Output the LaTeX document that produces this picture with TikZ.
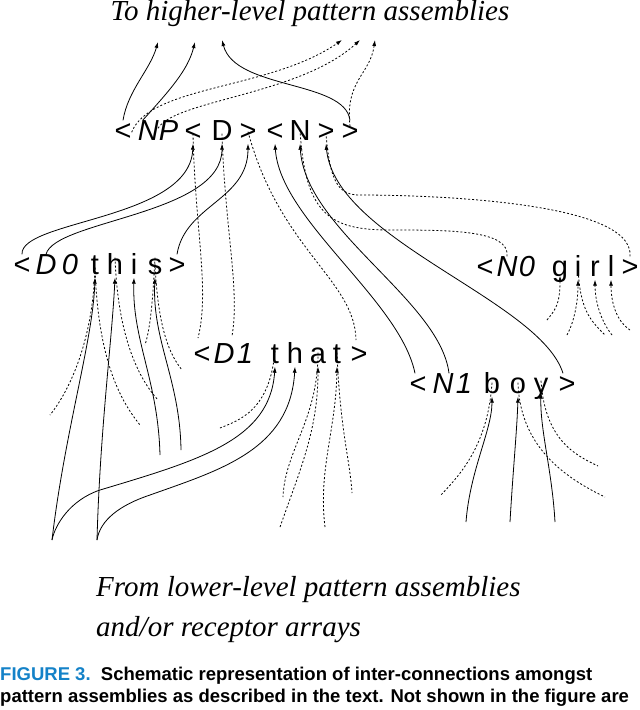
\documentclass[tikz,border=0pt]{standalone}
\usepackage{fontspec}
\setsansfont{Liberation Sans}
\setmainfont{Liberation Serif}
\usetikzlibrary{arrows.meta}
\definecolor{capblue}{RGB}{20,130,200}
\begin{document}
\begin{tikzpicture}[x=1pt,y=-1pt,
  tok/.style={inner sep=0pt,text height=20pt,text depth=3pt,font=\sffamily\fontsize{29}{29}\selectfont},
  itok/.style={tok,font=\sffamily\itshape\fontsize{29}{29}\selectfont},
  sol/.style={line width=0.8pt,-{Latex[length=6pt,width=4pt]}},
  das/.style={line width=0.8pt,dash pattern=on 2pt off 2pt,-{Latex[length=6pt,width=4pt]}},
  dn/.style={line width=0.8pt,dash pattern=on 2pt off 2pt},
  big/.style={font=\itshape\fontsize{29}{32}\selectfont,inner sep=0pt}]
\useasboundingbox (0,0) rectangle (640,710);
\fill[white] (0,0) rectangle (640,710);
\node[big] (title) at (310,14) {To higher-level pattern assemblies};
% NP row
\foreach \n/\x/\t in {a1/123/{<},a3/193/{<},a4/222/{D},a5/248/{>},a6/275/{<},a7/300/{N},a8/326/{>},a9/350/{>}}
  \node[tok] (\n) at (\x,132) {\t};
\node[itok] (a2) at (158,132) {NP};
% D0 this row
\foreach \n/\x/\t in {b1/22/{<},b4/95/{t},b5/115/{h},b6/134/{i},b7/155/{s},b8/177/{>}}
  \node[tok] (\n) at (\x,266) {\t};
\node[itok] (b2) at (46,266) {D};
\node[itok] (b3) at (70,266) {0};
% D1 that row
\foreach \n/\x/\t in {c1/202/{<},c4/275/{t},c5/295/{h},c6/318/{a},c7/337/{t},c8/359/{>}}
  \node[tok] (\n) at (\x,355) {\t};
\node[itok] (c2) at (224,355) {D};
\node[itok] (c3) at (245,355) {1};
% N1 boy row
\foreach \n/\x/\t in {d1/418/{<},d4/492/{b},d5/518/{o},d6/541/{y},d7/567/{>}}
  \node[tok] (\n) at (\x,385) {\t};
\node[itok] (d2) at (443,385) {N};
\node[itok] (d3) at (464,385) {1};
% N0 girl row
\foreach \n/\x/\t in {e1/485/{<},e4/560/{g},e5/578/{i},e6/595/{r},e7/611/{l},e8/630/{>}}
  \node[tok] (\n) at (\x,268) {\t};
\node[itok] (e2) at (507,268) {N};
\node[itok] (e3) at (527,268) {0};
% top arrows
\coordinate (t1) at (158,42); \coordinate (t2) at (195,42); \coordinate (t3) at (222,40);
\coordinate (t4) at (342,40); \coordinate (t5) at (360,40); \coordinate (t6) at (375,40);
\draw[sol] (a1.north) .. controls (128,90) and (150,70) .. (t1);
\draw[sol] ([xshift=5pt]a2.north west) .. controls (170,90) and (188,70) .. (t2);
\draw[sol] (a9.north) .. controls (345,80) and (235,90) .. (t3);
\draw[das] ([yshift=-12pt]a1.north east) .. controls (150,85) and (270,90) .. (t4);
\draw[das] ([yshift=-8pt]a2.north) .. controls (175,100) and (300,95) .. (t5);
\draw[das] ([yshift=-6pt]a9.north) .. controls (345,80) and (370,75) .. (t6);
% into NP row
\draw[sol] (b1.north) .. controls (20,220) and (190,220) .. (a3.south);
\draw[sol] (b2.north) .. controls (55,220) and (222,215) .. (a4.south);
\draw[sol] (b8.north) .. controls (185,205) and (248,200) .. (a5.south);
\draw[sol] ([xshift=-3pt]d1.north) .. controls (400,300) and (280,220) .. (a6.south);
\draw[sol] ([xshift=6pt]d2.north) .. controls (440,300) and (305,230) .. (a7.south);
\draw[sol] ([xshift=-4pt]d7.north) .. controls (540,300) and (335,240) .. (a8.south);
\coordinate (x1) at (198,338); \coordinate (x2) at (232,336); \coordinate (x3) at (356,340);
\draw[dn] ([yshift=10pt]a3.south) .. controls (195,230) and (210,290) .. (x1);
\draw[dn] ([yshift=10pt]a4.south) .. controls (225,230) and (240,290) .. (x2);
\draw[dn] ([yshift=12pt]a5.south) .. controls (280,250) and (355,280) .. (x3);
\draw[dn] (e2.north) .. controls (510,230) and (450,230) .. (390,230) .. controls (330,230) and (305,215) .. ([yshift=14pt]a7.south);
\draw[dn] (e8.north) .. controls (635,200) and (420,195) .. (360,195) .. controls (340,195) and (330,185) .. ([yshift=10pt]a8.south);
% D0 this incoming
\coordinate (f1) at (52,540); \coordinate (f2) at (97,540);
\coordinate (f3) at (160,455); \coordinate (f4) at (181,450);
\draw[sol] (f1) .. controls (65,430) and (93,340) .. (b4.south);
\draw[sol] (f2) .. controls (100,430) and (112,340) .. (b5.south);
\draw[sol] (f3) .. controls (158,380) and (132,340) .. (b6.south);
\draw[sol] (f4) .. controls (180,380) and (152,340) .. (b7.south);
\coordinate (g1) at (50,415); \coordinate (g2) at (140,425); \coordinate (g3) at (158,400);
\coordinate (g4) at (182,370); \coordinate (g5) at (145,345);
\draw[dn] ([yshift=10pt]b4.south) .. controls (93,340) and (70,390) .. (g1);
\draw[dn] ([yshift=10pt]b4.south) .. controls (98,360) and (120,400) .. (g2);
\draw[dn] ([yshift=20pt]b5.south) .. controls (118,340) and (140,380) .. (g3);
\draw[dn] ([yshift=14pt]b7.south) .. controls (158,330) and (170,355) .. (g4);
\draw[dn] ([yshift=20pt]b7.south) .. controls (152,320) and (148,335) .. (g5);
% D1 that incoming
\draw[sol] (f1) .. controls (55,525) and (70,500) .. (100,490) .. controls (200,460) and (270,440) .. (c4.south);
\draw[sol] (f2) .. controls (100,520) and (120,505) .. (150,495) .. controls (220,470) and (290,450) .. (c5.south);
\coordinate (h1) at (280,527); \coordinate (h2) at (325,527); \coordinate (h3) at (352,493);
\coordinate (h4) at (220,428); \coordinate (h5) at (283,497);
\draw[das] (h1) .. controls (300,470) and (318,430) .. (c6.south);
\draw[das] (h2) .. controls (318,470) and (336,430) .. (c7.south);
\draw[dn] ([yshift=14pt]c7.south) .. controls (340,430) and (350,460) .. (h3);
\draw[dn] ([yshift=16pt]c4.south) .. controls (270,410) and (240,420) .. (h4);
\draw[dn] ([yshift=14pt]c6.south) .. controls (318,420) and (285,450) .. (h5);
% N1 boy incoming
\coordinate (k1) at (466,522); \coordinate (k2) at (510,522); \coordinate (k3) at (555,522);
\draw[sol] (k1) .. controls (470,470) and (492,430) .. (d4.south);
\draw[sol] (k2) .. controls (513,470) and (517,430) .. (d5.south);
\draw[sol] (k3) .. controls (552,470) and (540,430) .. ([yshift=4pt]d6.south);
\coordinate (k4) at (440,496); \coordinate (k5) at (605,497); \coordinate (k6) at (598,466);
\draw[dn] ([yshift=14pt]d4.south) .. controls (488,445) and (460,475) .. (k4);
\draw[dn] ([yshift=14pt]d5.south) .. controls (520,450) and (570,480) .. (k5);
\draw[dn] ([yshift=16pt]d6.south) .. controls (545,440) and (575,455) .. (k6);
% N0 girl incoming
\coordinate (m1) at (547,320); \coordinate (m2) at (567,335); \coordinate (m3) at (612,335);
\coordinate (m4) at (630,330); \coordinate (m5) at (605,335);
\draw[das] (m1) .. controls (555,310) and (560,305) .. ([yshift=4pt]e4.south);
\draw[das] (m2) .. controls (575,320) and (578,300) .. (e5.south);
\draw[dn] ([yshift=12pt]e5.south) .. controls (580,310) and (590,320) .. (m5);
\draw[das] (m3) .. controls (600,320) and (595,300) .. (e6.south);
\draw[das] (m4) .. controls (615,320) and (611,300) .. (e7.south);
% bottom text
\node[big,anchor=west] (from1) at (96,590) {From lower-level pattern assemblies};
\node[big,anchor=west] (from2) at (96,630) {and/or receptor arrays};
\node[anchor=west,inner sep=0pt,font=\sffamily\bfseries\fontsize{18.5}{20}\selectfont] (cap1) at (0,676)
  {\textcolor{capblue}{FIGURE 3.}\ \ Schematic representation of inter-connections amongst};
\node[anchor=west,inner sep=0pt,font=\sffamily\bfseries\fontsize{18.5}{20}\selectfont] (cap2) at (0,698)
  {pattern assemblies as described in the text. Not shown in the figure are};
\end{tikzpicture}
\end{document}
